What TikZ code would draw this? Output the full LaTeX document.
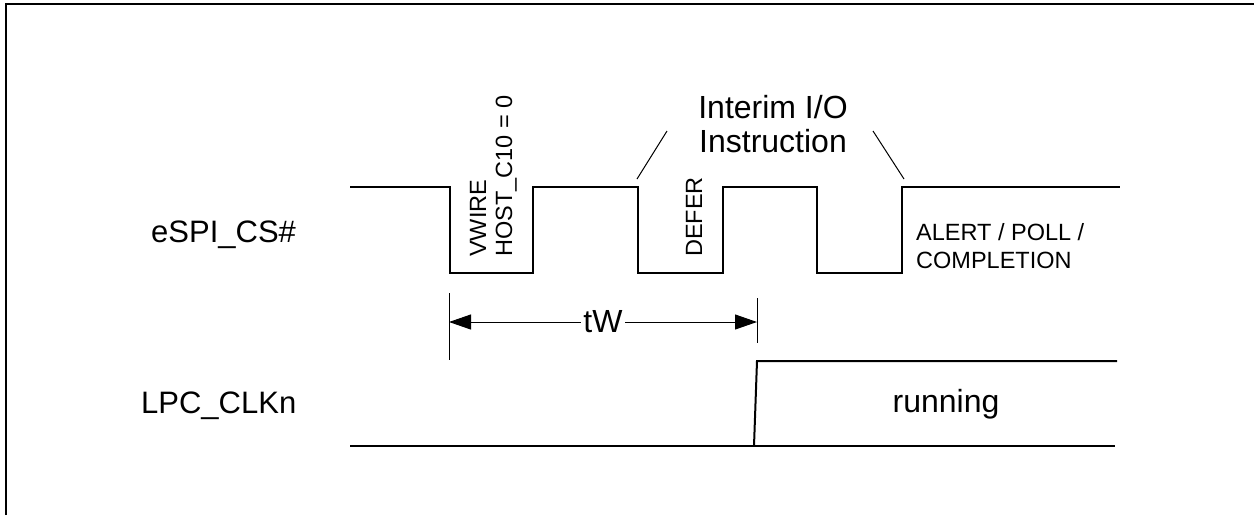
\documentclass[tikz,border=0pt]{standalone}
\usepackage{fontspec}
\setmainfont{Liberation Sans}
\usetikzlibrary{arrows.meta}

\begin{document}
\begin{tikzpicture}[x=1pt,y=-1pt,
		sig/.style={line width=2},
		thin/.style={line width=1},
		lbl/.style={font=\fontsize{31}{34}\selectfont,inner sep=0},
		big/.style={font=\fontsize{32}{34}\selectfont,inner sep=0},
		small/.style={font=\fontsize{23.5}{28.5}\selectfont,inner sep=0},
		dimtip/.tip={Triangle[length=22,width=15]}]
			\useasboundingbox (0,0) rectangle (1254,515);
			\draw[line width=2] (6,515) -- (6,4) -- (1254,4);
			
			% eSPI_CS#
			
			\node[lbl,anchor=base west] (cs) at (151,242) {eSPI\_CS\#};
			\draw[sig] (350,187) foreach \a/\b in {450/533,638/723,817/902} {
				-- (\a,187) -- (\a,273) -- (\b,273) -- (\b,187)
			} -- (1120,187);
			\node[small,rotate=90,anchor=base west] (vw) at (486,257) {VWIRE};
			\node[small,rotate=90,anchor=base west] (hc) at (512,257) {HOST\_C10 = 0};
			\node[small,rotate=90,anchor=base west] (df) at (702,257) {DEFER};
			\node[small,anchor=north west,align=left] (apc) at (916,223) {ALERT / POLL /\\COMPLETION};
			
			% interim
			
			\node[big,align=center,anchor=north] (io) at (773,95) {Interim I/O\\Instruction};
			\coordinate (pL) at (637,179);
			\coordinate (pR) at (904,179);
			\draw[thin] (pL) -- (667,131);
			\draw[thin] (pR) -- (873,131);
			
			% tW
			
			\coordinate (tL) at (449,322);
			\coordinate (tR) at (757,322);
			\draw[thin] (449,293) -- (449,360);
			\draw[thin] (757,298) -- (757,343);
			\draw[thin,dimtip-dimtip] (tL) -- node[big,fill=white,inner sep=2] (tw) {tW} (tR);
			
			% LPC_CLKn
			
			\node[lbl,anchor=base west] (clk) at (141,413) {LPC\_CLKn};
			\draw[sig] (350,446) -- (1115,446);
			\draw[sig] (754,446) -- (757,361) -- (1117,361);
			\node[big,anchor=base] (run) at (946,412) {running};
		\end{tikzpicture}
\end{document}
